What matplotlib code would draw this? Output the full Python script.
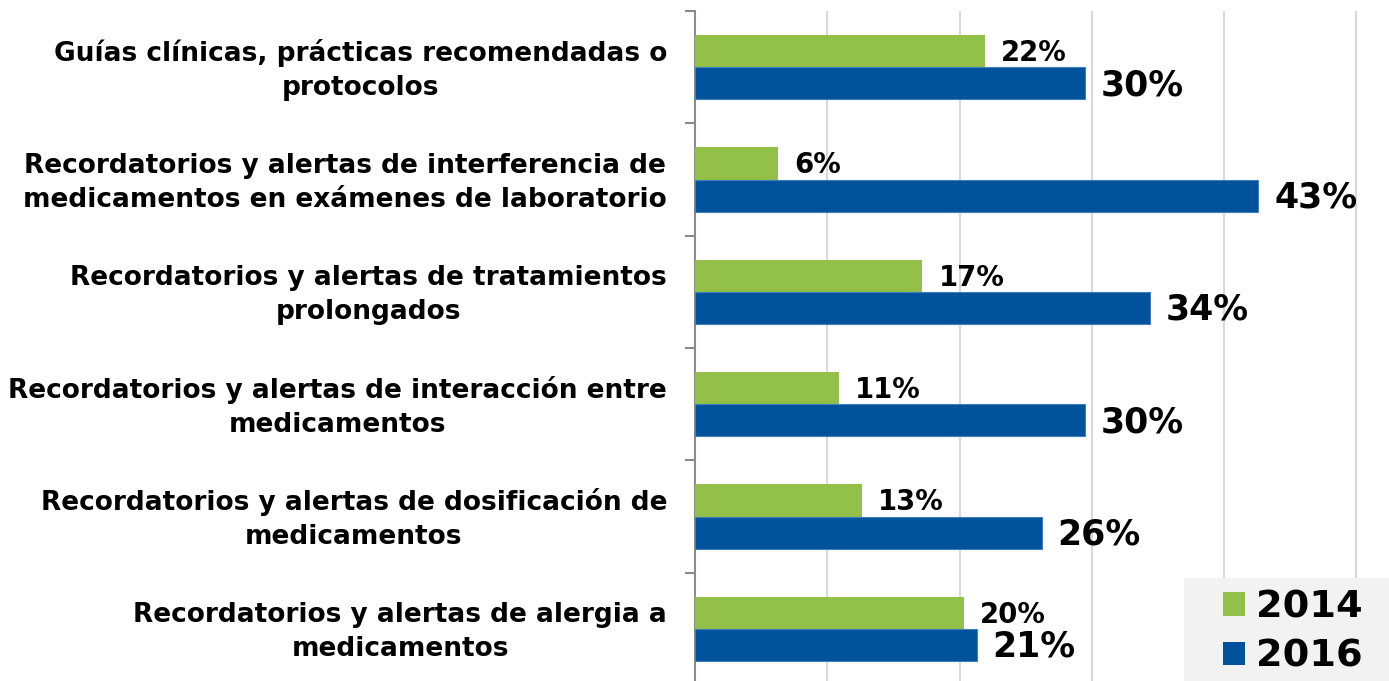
import matplotlib
matplotlib.use("Agg")
import matplotlib.pyplot as plt
from matplotlib.patches import Patch, Rectangle
from matplotlib.transforms import offset_copy, ScaledTranslation

categories = [
    "Guías clínicas, prácticas recomendadas o\nprotocolos",
    "Recordatorios y alertas de interferencia de\nmedicamentos en exámenes de laboratorio",
    "Recordatorios y alertas de tratamientos\nprolongados",
    "Recordatorios y alertas de interacción entre\nmedicamentos",
    "Recordatorios y alertas de dosificación de\nmedicamentos",
    "Recordatorios y alertas de alergia a\nmedicamentos",
]
series_names = ["2014", "2016"]
values_2014 = [21.9, 6.3, 17.2, 10.9, 12.6, 20.3]
values_2016 = [29.5, 42.6, 34.4, 29.5, 26.2, 21.3]
labels_2014 = ["22%", "6%", "17%", "11%", "13%", "20%"]
labels_2016 = ["30%", "43%", "34%", "30%", "26%", "21%"]

GREEN = "#92C048"
BLUE = "#00529B"
FONT = "DejaVu Sans"

W, H = 1389, 681
fig = plt.figure(figsize=(W / 100, H / 100), dpi=100)
ax_left = 695 / W
ax_top = 1 - 11 / H
ax_bottom = -4 / H
ax = fig.add_axes([ax_left, ax_bottom, 1 - ax_left, ax_top - ax_bottom])

n = len(categories)
bar_h = 0.285
centers = list(range(n))
y_green = [c - bar_h / 2 for c in centers]
y_blue = [c + bar_h / 2 for c in centers]

ax.barh(y_green, values_2014, height=bar_h, color=GREEN, zorder=3)
ax.barh(y_blue, values_2016, height=bar_h, color=BLUE, edgecolor="#3f7fbf", linewidth=0.8, zorder=3)

ax.set_ylim(n - 0.5, -0.5)
ax.set_xlim(0, 52.47)

# gridlines
ax.set_xticks([10, 20, 30, 40, 50])
ax.tick_params(axis="x", length=0, labelbottom=False)
ax.grid(axis="x", color="#d9d9d9", linewidth=1.5, zorder=0)

# y ticks: boundaries with marks, centers with labels
ax.set_yticks([i - 0.5 for i in range(n + 1)])
ax.set_yticklabels([])
ax.tick_params(axis="y", which="major", length=7, width=1.5, color="#8c8c8c")
ax.set_yticks(centers, minor=True)
ax.set_yticklabels(categories, minor=True, fontsize=19, fontweight="bold",
                   family=FONT, multialignment="center", linespacing=1.4)
ax.tick_params(axis="y", which="minor", length=0, pad=20)
shift = ScaledTranslation(0, 4 / 100, fig.dpi_scale_trans)
for lab in ax.get_yticklabels(minor=True):
    lab.set_transform(lab.get_transform() + shift)

for s in ["top", "right", "bottom"]:
    ax.spines[s].set_visible(False)
ax.spines["left"].set_color("#8c8c8c")
ax.spines["left"].set_linewidth(1.5)

# value labels
tr = offset_copy(ax.transData, fig=fig, x=16, y=-2, units="dots")
for y, v, lab in zip(y_green, values_2014, labels_2014):
    ax.text(v, y, lab, transform=tr, fontsize=19.8, fontweight="bold", family=FONT,
            va="center", ha="left", zorder=4)
for y, v, lab in zip(y_blue, values_2016, labels_2016):
    ax.text(v, y, lab, transform=tr, fontsize=25, fontweight="bold", family=FONT,
            va="center", ha="left", zorder=4)

# legend background and legend
fig.patches.append(Rectangle((1184 / W, 0), (W - 1184) / W, 103 / H,
                             transform=fig.transFigure, facecolor="#f2f2f2",
                             edgecolor="none", zorder=5))
handles = [Patch(facecolor=GREEN), Patch(facecolor=BLUE)]
leg = fig.legend(handles, series_names, loc="center", bbox_to_anchor=(1293 / W, 1 - 632 / H),
                 frameon=False,
                 prop={"family": FONT, "weight": "bold", "size": 27.5},
                 handlelength=0.58, handleheight=0.58, handletextpad=0.3,
                 labelspacing=0.36, borderpad=0.0, borderaxespad=0.0)
leg.set_zorder(6)

fig.savefig("out.png", dpi=100)
